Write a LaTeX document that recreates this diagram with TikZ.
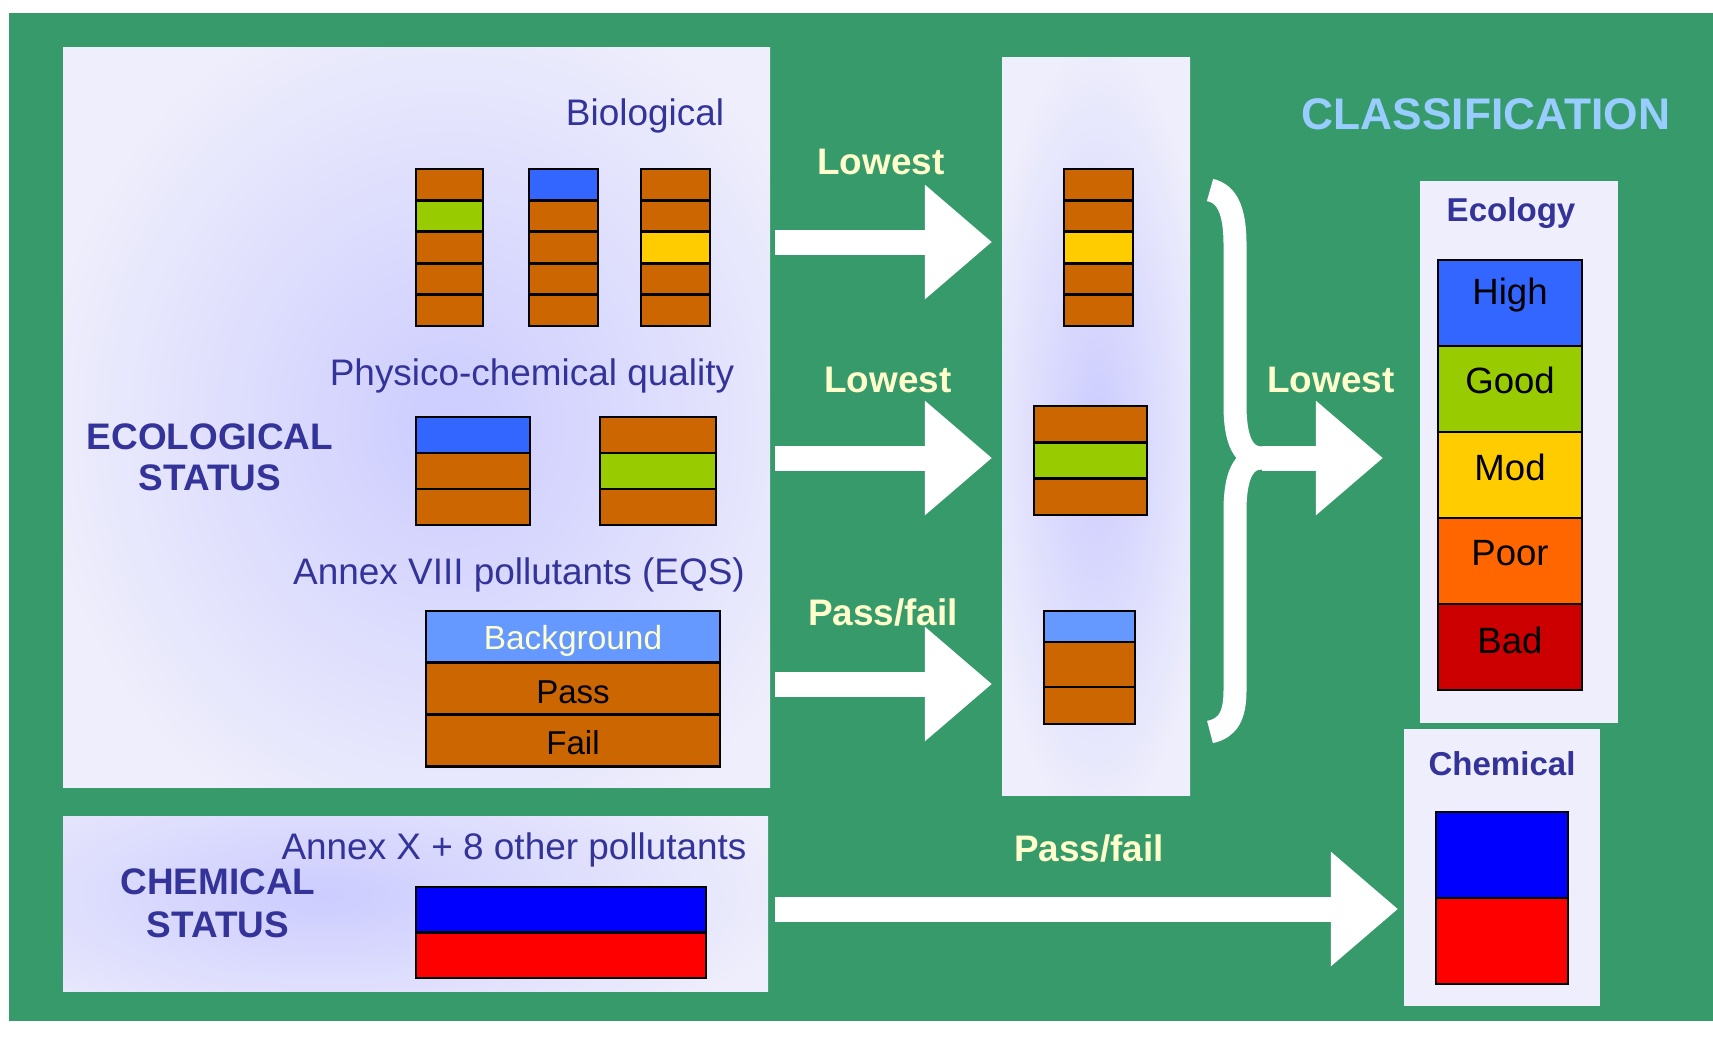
\documentclass[tikz,border=0pt]{standalone}
\usepackage{fontspec}
\setmainfont{Liberation Sans}
\usepackage{tikz}
\usetikzlibrary{arrows.meta}

\definecolor{wfdgreen}{RGB}{54,154,106}
\definecolor{panelbg}{RGB}{238,238,252}
\definecolor{glow}{RGB}{204,204,255}
\definecolor{navy}{RGB}{51,51,153}
\definecolor{cream}{RGB}{255,255,204}
\definecolor{skyblue}{RGB}{153,204,255}
\definecolor{cbrown}{RGB}{204,102,0}
\definecolor{cgreen}{RGB}{153,204,0}
\definecolor{cyellow}{RGB}{255,204,0}
\definecolor{cblue}{RGB}{51,102,255}
\definecolor{clblue}{RGB}{102,153,255}
\definecolor{corange}{RGB}{255,102,0}
\definecolor{cred}{RGB}{204,0,0}

% x1, x2, top, height of one band, colours from top to bottom
\newcommand\colbar[5]{%
  \foreach \col [count=\i from 0] in {#5}
    \draw[seg,fill=\col] (#1,{#3+\i*#4}) rectangle (#2,{#3+(\i+1)*#4});}

\begin{document}
\begin{tikzpicture}[x=0.01cm,y=-0.01cm,
  seg/.style={draw=black,line width=0.8pt},
  lab/.style={text=navy,font=\fontsize{10.5}{12}\selectfont},
  headlab/.style={text=navy,font=\bfseries\fontsize{10.5}{11.6}\selectfont,align=center},
  arrlab/.style={text=cream,font=\bfseries\fontsize{10.5}{12}\selectfont},
  scalelab/.style={font=\fontsize{10.4}{12}\selectfont},
  bigarrow/.style={white,line width=0.25cm,-{Triangle[length=0.67cm,width=1.1cm]}}]
\useasboundingbox (0,0) rectangle (1713,1036);
\fill[white] (0,0) rectangle (1713,1036);
\fill[wfdgreen] (9,13) rectangle (1713,1021);

% panels
\fill[panelbg] (63,47) rectangle (770,787);
\begin{scope}
\clip (63,47) rectangle (770,787);
\shade[inner color=glow,outer color=panelbg] (40,-20) rectangle (860,870);
\end{scope}
\fill[panelbg] (63,816) rectangle (768,991);
\begin{scope}
\clip (63,816) rectangle (768,991);
\shade[inner color=glow,outer color=panelbg] (-150,730) rectangle (800,1060);
\end{scope}
\fill[panelbg] (1002,57) rectangle (1190,795);
\begin{scope}
\clip (1002,57) rectangle (1190,795);
\shade[inner color=glow,outer color=panelbg] (980,40) rectangle (1215,830);
\end{scope}
\fill[panelbg] (1420,181) rectangle (1618,723);
\fill[panelbg] (1404,729) rectangle (1600,1006);

% ecological status
\node[lab] (bio) at (645,116) {Biological};
\colbar{416}{483}{169}{31.4}{cbrown,cgreen,cbrown,cbrown,cbrown}
\colbar{529}{598}{169}{31.4}{cblue,cbrown,cbrown,cbrown,cbrown}
\colbar{641}{710}{169}{31.4}{cbrown,cbrown,cyellow,cbrown,cbrown}
\node[lab] (phys) at (532,376) {Physico-chemical quality};
\colbar{416}{530}{417}{36}{cblue,cbrown,cbrown}
\colbar{600}{716}{417}{36}{cbrown,cgreen,cbrown}
\node[headlab] (ecostat) at (210,457) {ECOLOGICAL\\STATUS};
\node[lab] (annex8) at (519,575) {Annex VIII pollutants (EQS)};
\colbar{426}{720}{611}{51.7}{clblue,cbrown,cbrown}
\node[text=cream,font=\fontsize{9.5}{11}\selectfont] (bground) at (573,641) {Background};
\node[font=\fontsize{9.4}{11}\selectfont] (pass) at (573,692) {Pass};
\node[font=\fontsize{9.4}{11}\selectfont] (fail) at (573,743) {Fail};

% chemical status
\node[lab] (annexX) at (514,850) {Annex X + 8 other pollutants};
\node[headlab,font=\bfseries\fontsize{10.5}{12.2}\selectfont] (chemstat) at (218,903) {CHEMICAL\\STATUS};
\colbar{416}{706}{887}{45.5}{blue,red}

% lowest of each group
\colbar{1064}{1133}{169}{31.4}{cbrown,cbrown,cyellow,cbrown,cbrown}
\colbar{1034}{1147}{406}{36.3}{cbrown,cgreen,cbrown}
\draw[seg,fill=clblue] (1044,611) rectangle (1135,642);
\draw[seg,fill=cbrown] (1044,642) rectangle (1135,687);
\draw[seg,fill=cbrown] (1044,687) rectangle (1135,724);

% classification
\node[text=skyblue,font=\bfseries\fontsize{12.6}{14}\selectfont] (classif) at (1486,114) {CLASSIFICATION};
\node[text=navy,font=\bfseries\fontsize{9.4}{11}\selectfont] (ecol) at (1511,213) {Ecology};
\colbar{1438}{1582}{260}{86}{cblue,cgreen,cyellow,corange,cred}
\node[scalelab] (high) at (1510,295) {High};
\node[scalelab] (good) at (1510,380) {Good};
\node[scalelab] (mod) at (1510,467) {Mod};
\node[scalelab] (poor) at (1510,553) {Poor};
\node[scalelab] (bad) at (1510,640) {Bad};
\node[text=navy,font=\bfseries\fontsize{9.4}{11}\selectfont] (chemlab) at (1502,764) {Chemical};
\colbar{1436}{1568}{812}{86}{blue,red}

% arrows
\coordinate (bioout) at (775,242);
\coordinate (bioin) at (992,242);
\coordinate (physout) at (775,458);
\coordinate (physin) at (992,458);
\coordinate (eqsout) at (775,684);
\coordinate (eqsin) at (992,684);
\coordinate (chemout) at (775,909);
\coordinate (chemin) at (1398,909);
\coordinate (bracetip) at (1262,458);
\coordinate (ecoin) at (1383,458);
\draw[bigarrow] (bioout) -- (bioin);
\draw[bigarrow] (physout) -- (physin);
\draw[bigarrow] (eqsout) -- (eqsin);
\draw[bigarrow] (chemout) -- (chemin);
\draw[white,line width=0.23cm] (1210,190) .. controls (1228,194) and (1235,212) .. (1235,245)
  -- (1235,405) .. controls (1235,440) and (1243,458) .. (bracetip);
\draw[white,line width=0.23cm] (bracetip) .. controls (1243,458) and (1235,476) .. (1235,511)
  -- (1235,690) .. controls (1235,716) and (1228,728) .. (1210,732);
\draw[bigarrow] (bracetip) -- (ecoin);
\node[arrlab] (low1) at (881,162) {Lowest};
\node[arrlab] (low2) at (888,380) {Lowest};
\node[arrlab] (pf1) at (883,612) {Pass/fail};
\node[arrlab] (low3) at (1331,380) {Lowest};
\node[arrlab] (pf2) at (1089,848) {Pass/fail};
\end{tikzpicture}
\end{document}
